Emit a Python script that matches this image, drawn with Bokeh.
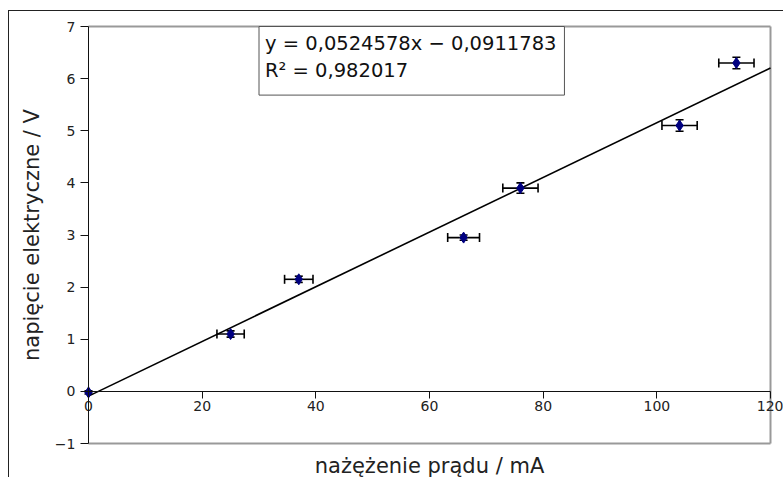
import math
from bokeh.plotting import figure
from bokeh.models import (Range1d, Whisker, ColumnDataSource, Label, TeeHead,
                          FixedTicker, LinearAxis)
from bokeh.embed import file_html
from bokeh.resources import INLINE

# data
current_mA = [0, 25, 37, 66, 76, 104, 114]
voltage_V = [-0.02, 1.1, 2.15, 2.95, 3.9, 5.1, 6.3]
current_err = [0.0, 2.4, 2.5, 2.8, 3.1, 3.1, 3.1]
voltage_err = [0.03, 0.06, 0.06, 0.05, 0.1, 0.11, 0.11]
fit_slope = 0.0524578
fit_intercept = -0.0911783
fit_r2 = 0.982017
fit_x = [0, 120]
x_ticks = [0, 20, 40, 60, 80, 100, 120]
y_ticks = [-1, 0, 1, 2, 3, 4, 5, 6, 7]
x_bounds = (0, 120)
y_bounds = (-1, 7)

FONT = "DejaVu Sans"
W, H = 775, 467
# plot area in canvas pixels (left, right, top, bottom)
PL, PR, PT, PB = 79, 761, 15, 432
sx = (PR - PL) / (x_bounds[1] - x_bounds[0])
sy = (PB - PT) / (y_bounds[1] - y_bounds[0])
xr = Range1d(x_bounds[0] - PL / sx, x_bounds[1] + (W - PR) / sx)
yr = Range1d(y_bounds[0] - (H - PB) / sy, y_bounds[1] + PT / sy)

p = figure(width=W, height=H, output_backend="svg", toolbar_location=None,
           x_range=xr, y_range=yr, x_axis_location=None, y_axis_location=None,
           min_border=0)
p.styles = {"border-top": "1px solid #222", "border-left": "1px solid #222",
            "margin-top": "10px", "margin-left": "8px"}
p.grid.visible = False
p.outline_line_color = None

# gray plot-area border (top, right, bottom)
p.multi_line(xs=[[x_bounds[0], x_bounds[1]], [x_bounds[1], x_bounds[1]], [x_bounds[0], x_bounds[1]]],
             ys=[[y_bounds[1], y_bounds[1]], [y_bounds[0], y_bounds[1]], [y_bounds[0], y_bounds[0]]],
             line_color="#999999", line_width=2)

def style_axis(ax, tick_out):
    ax.axis_line_color = "#111111"
    ax.major_tick_line_color = "#111111"
    ax.major_tick_out = tick_out
    ax.major_tick_in = 0
    ax.minor_tick_line_color = None
    ax.major_label_text_font = FONT
    ax.major_label_text_font_size = "14px"
    ax.major_label_text_color = "#222222"

xa = LinearAxis(fixed_location=0, ticker=FixedTicker(ticks=x_ticks), bounds=x_bounds)
style_axis(xa, 7)
xa.major_label_standoff = 3
p.add_layout(xa, "below")

ya = LinearAxis(fixed_location=0, ticker=FixedTicker(ticks=y_ticks), bounds=y_bounds)
style_axis(ya, 8)
ya.major_label_standoff = 5
ya.major_label_overrides = {-1: "\u22121"}
p.add_layout(ya, "left")

# fit line
fit_y = [fit_slope * x + fit_intercept for x in fit_x]
p.line(fit_x, fit_y, line_color="black", line_width=1.6)

src = ColumnDataSource(dict(
    x=current_mA, y=voltage_V,
    xl=[x - e for x, e in zip(current_mA, current_err)],
    xu=[x + e for x, e in zip(current_mA, current_err)],
    yl=[y - e for y, e in zip(voltage_V, voltage_err)],
    yu=[y + e for y, e in zip(voltage_V, voltage_err)],
))

wx = Whisker(source=src, base="y", lower="xl", upper="xu", dimension="width",
             line_color="black", line_width=1.6,
             lower_head=TeeHead(size=9, line_color="black", line_width=1.6),
             upper_head=TeeHead(size=9, line_color="black", line_width=1.6))
wy = Whisker(source=src, base="x", lower="yl", upper="yu", dimension="height",
             line_color="black", line_width=1.6,
             lower_head=TeeHead(size=8, line_color="black", line_width=1.6),
             upper_head=TeeHead(size=8, line_color="black", line_width=1.6))
p.add_layout(wx)
p.add_layout(wy)

p.scatter("x", "y", source=src, marker="diamond", size=11,
          fill_color="#000080", line_color="#000080")

# equation box
eq = Label(x=30, y=7, text="y = 0,0524578x \u2212 0,0911783\nR\u00b2 = 0,982017",
           text_font=FONT, text_font_size="19.5px", text_color="#111111",
           text_baseline="top", text_align="left",
           border_line_color="#555555", border_line_width=1,
           background_fill_color="white",
           padding=dict(left=6, right=8, top=5, bottom=13))
p.add_layout(eq)

# axis titles
xl = Label(x=60, y=-1, y_offset=-22, text="nażężenie prądu / mA",
           text_font=FONT, text_font_size="21px", text_color="#222222",
           text_align="center", text_baseline="middle")
p.add_layout(xl)
yl = Label(x=0, y=3, x_offset=-57, angle=math.pi / 2, text="napięcie elektryczne / V",
           text_font=FONT, text_font_size="21px", text_color="#222222",
           text_align="center", text_baseline="middle")
p.add_layout(yl)

open("out.html", "w").write(file_html(p, INLINE))
